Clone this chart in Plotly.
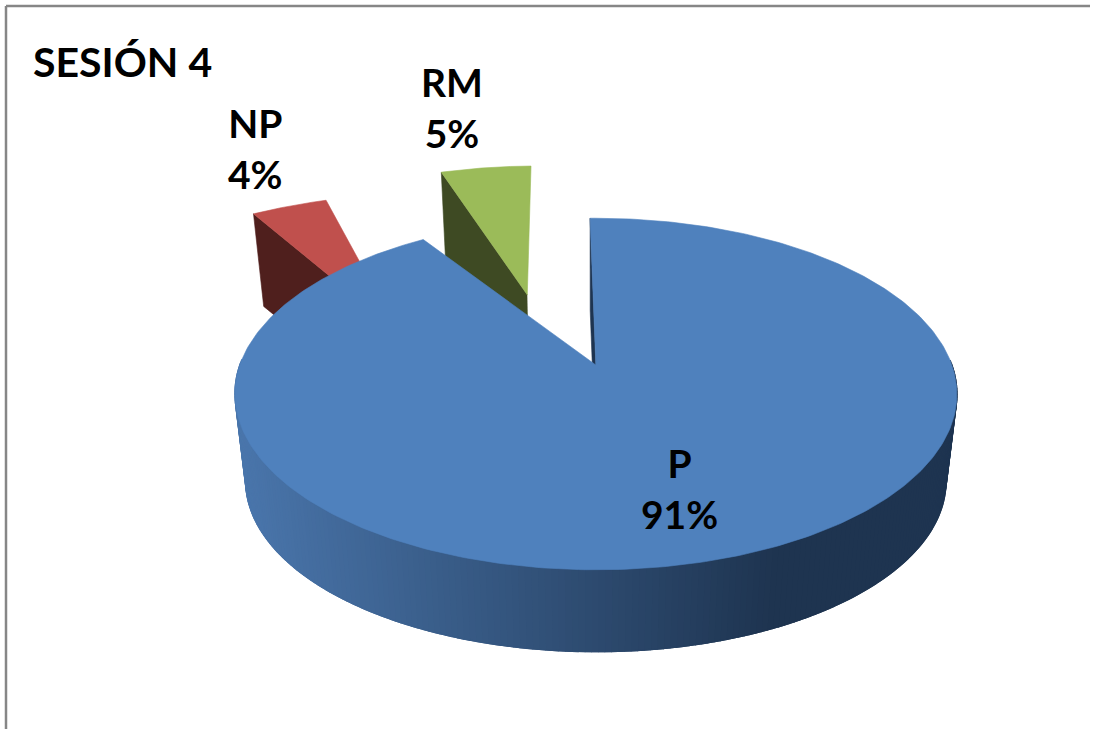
import numpy as np
import plotly.graph_objects as go

# Session results
title_text = "SESIÓN 4"
categories = ["P", "NP", "RM"]
percentages = [91, 4, 5]

# Slice styling
top_colors = ["#4F81BD", "#C0504D", "#9BBB59"]
cut_colors = ["#1E3450", "#4F1F1D", "#3E4A23"]
rim_left = [np.array([74, 118, 172]), np.array([79, 31, 29]), np.array([62, 74, 35])]
rim_right = [np.array([30, 52, 80]), np.array([79, 31, 29]), np.array([62, 74, 35])]
label_xy = {"P": (679, 488), "NP": (255, 148), "RM": (452, 107)}
# Pull-out of each slice in disc units (across, away from viewer)
slice_offset = {"P": (0.008, 0.0), "NP": (-0.566, 0.20), "RM": (-0.198, 0.44)}

# Projection of the tilted disc onto the page
APEX_X, APEX_Y = 593.0, 365.0
R_X, R_Y, PERSP = 356.0, 171.0, 0.165
LOWER_SCALE, LOWER_DROP = 0.97, 88.0
START_DEG = -1.0


def project(u, v, lower=False):
    w = 1 + PERSP * v
    x, y = R_X * u / w, -R_Y * v / w
    if lower:
        return APEX_X + x * LOWER_SCALE, APEX_Y + y * LOWER_SCALE + LOWER_DROP
    return APEX_X + x, APEX_Y + y


def polygon(x, y, color, width=0.6):
    return go.Scatter(
        x=list(x), y=list(y), mode="lines", fill="toself", fillcolor=color,
        line=dict(color=color, width=width), hoverinfo="skip", showlegend=False,
    )


def slice_traces(t0, t1, off, top, cut, left, right):
    du, dv = off
    traces = []
    th = np.linspace(t0, t1, 360)
    us, vs = du + np.sin(th), dv + np.cos(th)

    # Radial cut face on the leading edge
    eu, ev = du + np.sin(t0), dv + np.cos(t0)
    xs, ys = zip(project(du, dv), project(eu, ev), project(eu, ev, True), project(du, dv, True))
    traces.append(polygon(xs, ys, cut))

    # Outer wall, shaded from left to right in narrow strips; only the near side shows
    xmin, xmax = APEX_X - 361, APEX_X + 361
    for i in range(len(th) - 2):
        j = i + 3
        if np.cos(th[i + 1]) > 0.02:
            continue
        ut, vt = us[i:j], vs[i:j]
        xa, ya = project(ut, vt)
        xb, yb = project(ut[::-1], vt[::-1], True)
        f = min(np.clip((np.mean(xa) - xmin) / (xmax - xmin), 0, 1) / 0.75, 1)
        rgb = (1 - f) * left + f * right
        traces.append(polygon(np.r_[xa, xb], np.r_[ya, yb],
                              f"rgb({rgb[0]:.0f},{rgb[1]:.0f},{rgb[2]:.0f})", width=1.4))

    # Upper face
    xt, yt = project(us, vs)
    x0, y0 = project(du, dv)
    traces.append(polygon(np.r_[x0, xt, x0], np.r_[y0, yt, y0], top))
    return traces


# Slice extents, clockwise from the start angle
fractions = np.array(percentages) / sum(percentages)
edges = np.radians(START_DEG) + 2 * np.pi * np.r_[0, np.cumsum(fractions)]

fig = go.Figure()
# The small slices sit behind the large one
for k in [2, 1, 0]:
    name = categories[k]
    for tr in slice_traces(edges[k], edges[k + 1], slice_offset[name], top_colors[k],
                           cut_colors[k], rim_left[k], rim_right[k]):
        fig.add_trace(tr)

for name, pct in zip(categories, percentages):
    lx, ly = label_xy[name]
    fig.add_annotation(x=lx, y=ly, text=f"<b>{name}<br>{pct}%</b>", showarrow=False,
                       font=dict(family="Lato", size=39, color="#000000"), xanchor="center", yanchor="middle")

fig.add_annotation(x=31, y=61, text=f"<b>{title_text}</b>", showarrow=False, xanchor="left", yanchor="middle",
                   font=dict(family="Lato", size=41, color="#000000"))

# Chart frame: top and left edges only reach the page
for x0, y0, x1, y1 in [(6, 6, 1090, 6), (6, 6, 6, 729)]:
    fig.add_shape(type="line", x0=x0, y0=y0, x1=x1, y1=y1, line=dict(color="#868686", width=2.5))

fig.update_layout(
    width=1094, height=729, margin=dict(l=0, r=0, t=0, b=0),
    paper_bgcolor="white", plot_bgcolor="white", showlegend=False,
    xaxis=dict(range=[0, 1094], visible=False, fixedrange=True),
    yaxis=dict(range=[729, 0], visible=False, fixedrange=True),
)
fig.write_html("out.html", config={"displayModeBar": False})
